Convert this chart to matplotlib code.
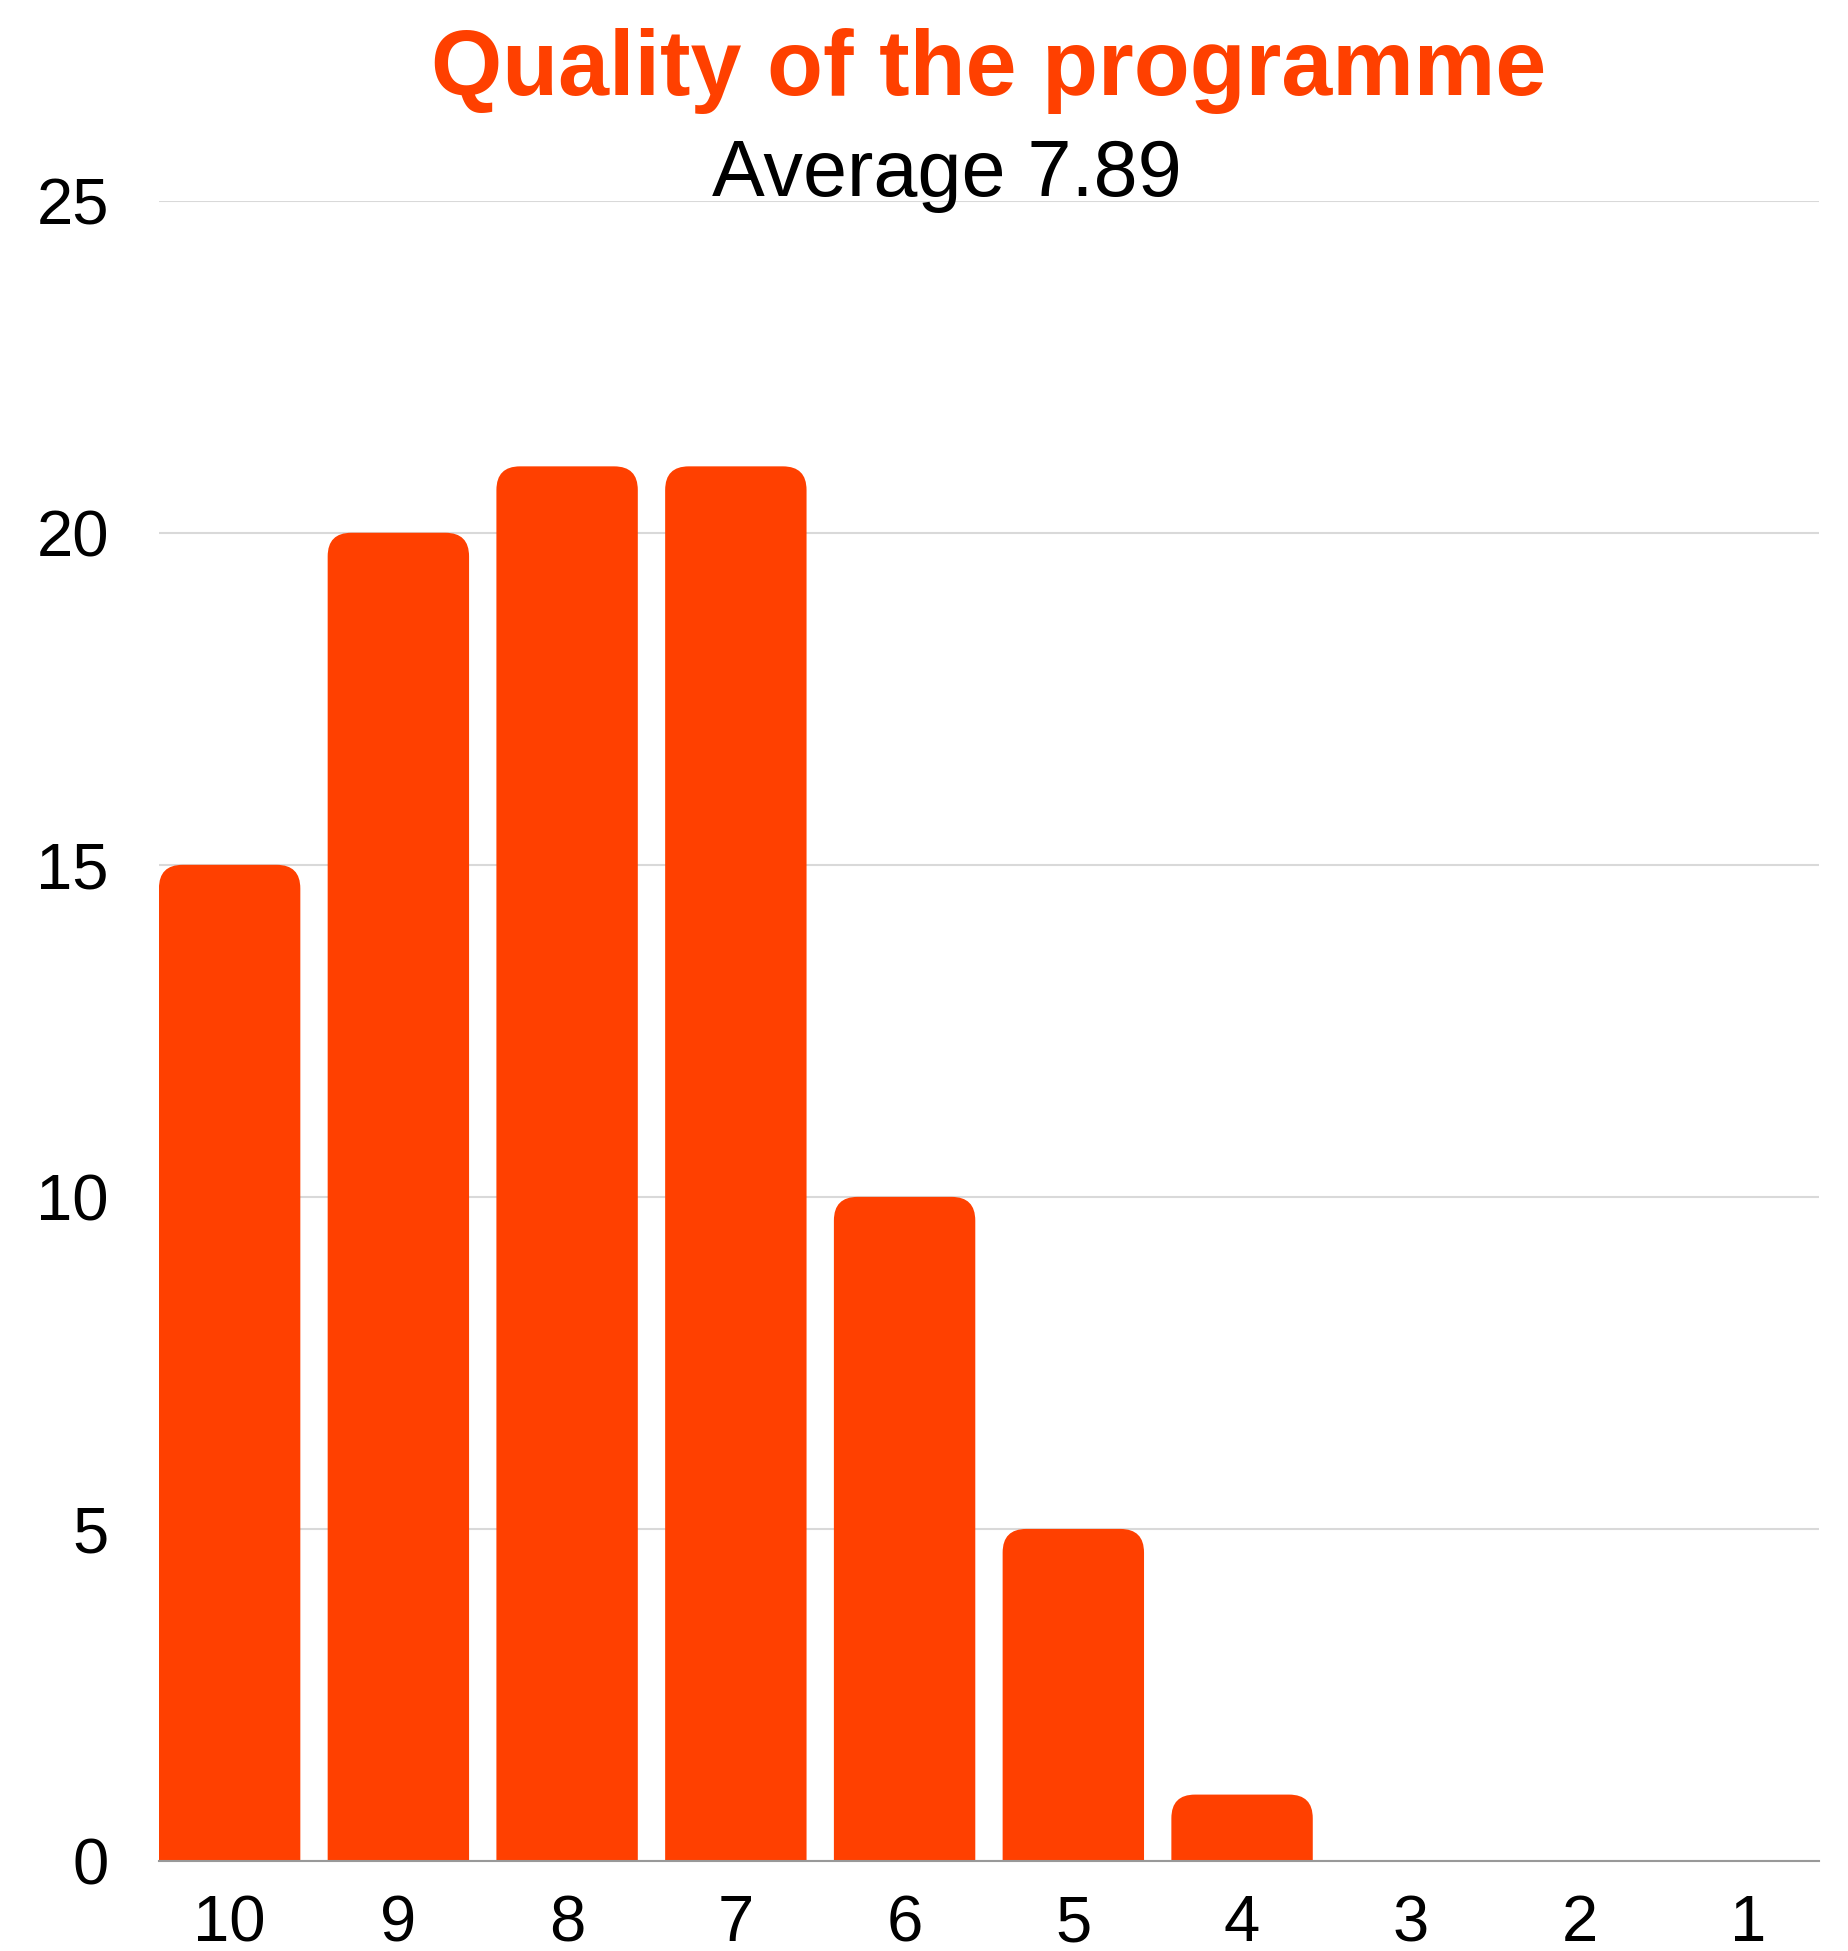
import numpy as np
import matplotlib
matplotlib.use('Agg')
import matplotlib.pyplot as plt
from matplotlib.patches import FancyBboxPatch

plt.rcParams['font.family'] = ['Liberation Sans', 'DejaVu Sans']

# ratings, shown from 10 down to 1
scores = ['10', '9', '8', '7', '6', '5', '4', '3', '2', '1']
counts = [15, 20, 21, 21, 10, 5, 1, 0, 0, 0]
average = 7.89
y_ticks = [0, 5, 10, 15, 20, 25]

orange = '#ff4000'

fig = plt.figure(figsize=(18.48, 19.51), dpi=100)
ax = fig.add_axes([0.0860, 0.04613, 0.8983, 0.8510])

x = np.arange(len(scores))
bar_w = 0.838
bars = ax.bar(x, counts, width=bar_w, color=orange, zorder=2)

# swap the plain rectangles for ones with rounded tops
px_x = 168.7
px_y = 66.4
for rect in bars:
    h = rect.get_height()
    rect.remove()
    if h <= 0:
        continue
    rb = FancyBboxPatch((rect.get_x(), -1), rect.get_width(), h + 1,
                        boxstyle='round,pad=0,rounding_size=0.14',
                        mutation_aspect=px_x / px_y,
                        facecolor=orange, edgecolor='none', zorder=2)
    ax.add_patch(rb)

ax.set_xlim(-bar_w / 2, len(scores) - 1 + bar_w / 2)
ax.set_ylim(0, 25)
ax.set_yticks(y_ticks)
ax.set_xticks(x)
ax.set_xticklabels(scores)

ax.tick_params(axis='both', length=0, labelsize=47, colors='black')
ax.tick_params(axis='x', pad=24)
ax.tick_params(axis='y', pad=36)

ax.grid(axis='y', color='#d9d9d9', linewidth=1.5, zorder=0)
ax.set_axisbelow(True)
for side in ['top', 'left', 'right']:
    ax.spines[side].set_visible(False)
ax.spines['bottom'].set_color('#999999')
ax.spines['bottom'].set_linewidth(1.5)
ax.spines['bottom'].set_zorder(3)

fig.text(0.5352, 0.9513, 'Quality of the programme', color=orange,
         fontsize=66, fontweight='bold', ha='center', va='baseline')
fig.text(0.5124, 0.8993, 'Average %.2f' % average, color='black',
         fontsize=57, ha='center', va='baseline')

fig.savefig('out.png', dpi=100)
